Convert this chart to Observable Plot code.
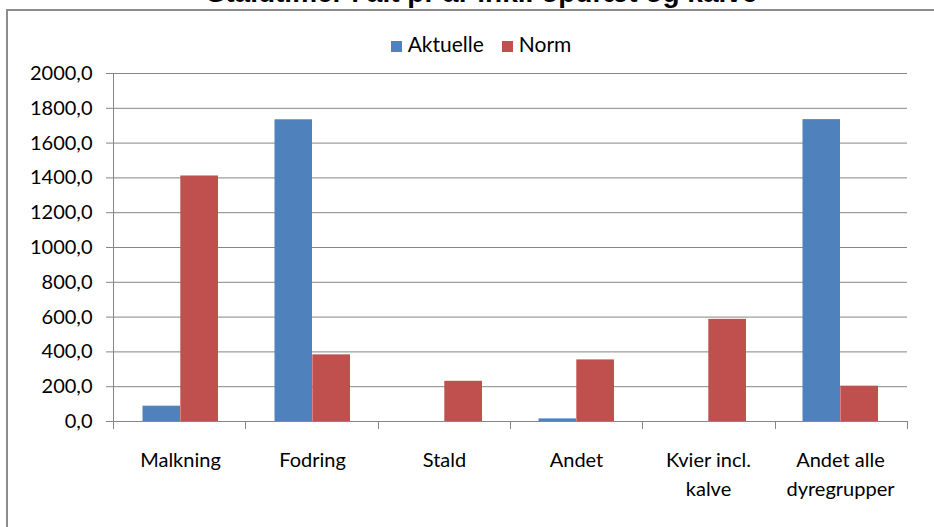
<!DOCTYPE html>
<html>
<head>
<meta charset="utf-8">
<script src="https://cdn.jsdelivr.net/npm/d3@7"></script>
<script src="https://cdn.jsdelivr.net/npm/@observablehq/plot@0.6"></script>
<style>
  html, body { margin: 0; padding: 0; background: #fff; }
  #wrap { position: relative; width: 934px; height: 527px; overflow: hidden; background: #fff; }
  #title { position: absolute; left: 0; width: 964px; top: -23px; text-align: center;
           font: bold 28px "Liberation Sans", Arial, sans-serif; line-height: 32px; color: #000; white-space: nowrap; }
  #frame { position: absolute; left: 6px; top: 9px; width: 960px; height: 560px;
           border: 2px solid #8c8c8c; box-sizing: border-box; pointer-events: none; }
  #legend { position: absolute; top: 31px; left: 0; width: 962px; text-align: center;
            font: 21px Lato, sans-serif; color: #000; }
  #legend span.sw { display: inline-block; width: 11px; height: 11px; margin-right: 6px; vertical-align: 0px; }
  #legend span.item { margin: 0 9px; }
  #chart { position: absolute; left: 0; top: 0; }
</style>
</head>
<body>
<div id="wrap">
  <div id="chart"></div>
  <div id="title">Staldtimer i alt pr år inkl. opdræt og kalve</div>
  <div id="frame"></div>
  <div id="legend"></div>
</div>
<script>
const categories = ["Malkning", "Fodring", "Stald", "Andet", "Kvier incl.\nkalve", "Andet alle\ndyregrupper"];
const aktuelle = [88, 1734, 0, 15, 0, 1735];
const norm = [1411, 383, 231, 354, 587, 203];
const seriesNames = ["Aktuelle", "Norm"];
const seriesColors = ["#4F81BD", "#C0504D"];
const yTicks = [0, 200, 400, 600, 800, 1000, 1200, 1400, 1600, 1800, 2000];

const rowsA = categories.map((c, i) => ({category: c, value: aktuelle[i], series: seriesNames[0]}));
const rowsN = categories.map((c, i) => ({category: c, value: norm[i], series: seriesNames[1]}));

const fmt = d => d.toFixed(1).replace(".", ",");

// category boundary ticks below the axis, and the y-axis line
function boundaryTicks(index, scales, values, dimensions) {
  const {width, height, marginLeft, marginRight, marginBottom, marginTop} = dimensions;
  const g = d3.create("svg:g");
  const n = categories.length;
  const step = (width - marginLeft - marginRight) / n;
  const y0 = height - marginBottom;
  for (let i = 0; i <= n; i++) {
    const x = Math.round(marginLeft + i * step) + 0.5;
    g.append("line").attr("x1", x).attr("x2", x).attr("y1", y0).attr("y2", y0 + 8)
      .attr("stroke", "#868686").attr("stroke-width", 1);
  }
  g.append("line").attr("x1", marginLeft + 0.5).attr("x2", marginLeft + 0.5)
    .attr("y1", marginTop).attr("y2", y0 + 8)
    .attr("stroke", "#868686").attr("stroke-width", 1);
  return g.node();
}

const chart = Plot.plot({
  width: 934,
  height: 527,
  marginTop: 73,
  marginBottom: 106,
  marginLeft: 113,
  marginRight: 27,
  style: {background: "transparent", fontFamily: "Lato, sans-serif", fontSize: "20px", color: "#000"},
  x: {domain: categories, padding: 0, axis: null},
  y: {domain: [0, 2000], axis: null},
  marks: [
    Plot.ruleY(yTicks, {stroke: "#868686", strokeWidth: 1}),
    Plot.barY(rowsA, {x: "category", y: "value", fill: seriesColors[0], insetLeft: 28.5, insetRight: 66}),
    Plot.barY(rowsN, {x: "category", y: "value", fill: seriesColors[1], insetLeft: 66.3, insetRight: 28}),
    Plot.axisY({ticks: yTicks, tickFormat: fmt, tickSize: 7, tickPadding: 14, stroke: "#868686",
                fontSize: 20, fill: "#000", label: null}),
    Plot.text(categories, {x: d => d, frameAnchor: "bottom", dy: 25, lineAnchor: "top",
                           lineHeight: 1.45, fontSize: 20, fill: "#000", text: d => d}),
    boundaryTicks
  ]
});
document.getElementById("chart").append(chart);

const legend = document.getElementById("legend");
seriesNames.forEach((name, i) => {
  const item = document.createElement("span");
  item.className = "item";
  const sw = document.createElement("span");
  sw.className = "sw";
  sw.style.background = seriesColors[i];
  item.append(sw, document.createTextNode(name));
  legend.append(item);
});
</script>
</body>
</html>
